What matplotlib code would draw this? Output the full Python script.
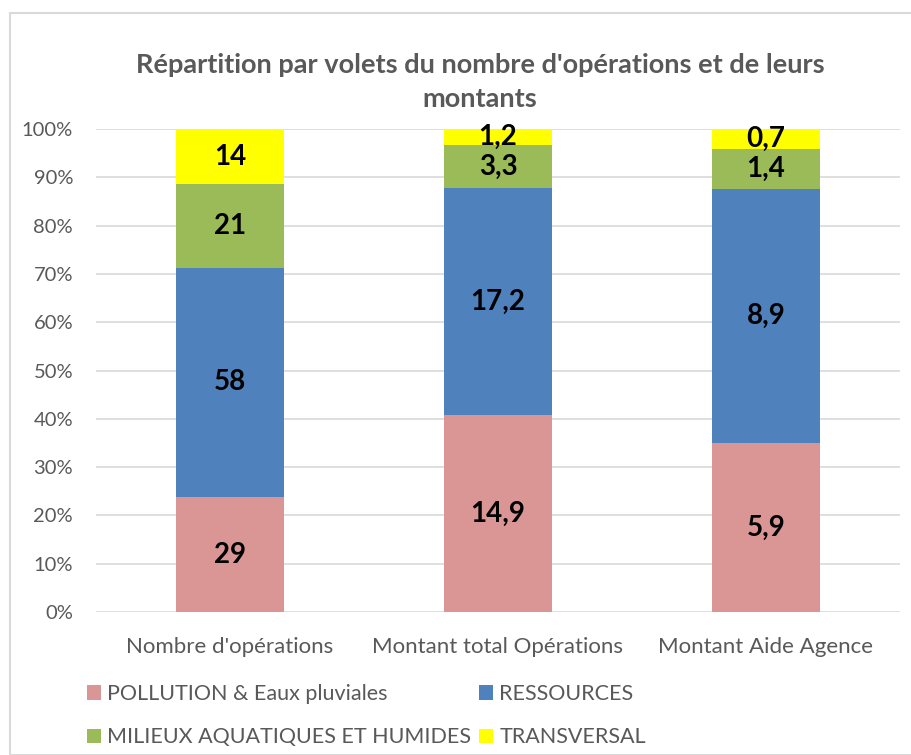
import matplotlib
matplotlib.use("Agg")
import matplotlib.pyplot as plt
import numpy as np
from matplotlib.patches import Rectangle

plt.rcParams['font.family'] = ['Lato', 'DejaVu Sans']

categories = ["Nombre d'opérations", "Montant total Opérations", "Montant Aide Agence"]
series_names = ["POLLUTION & Eaux pluviales", "RESSOURCES",
                "MILIEUX AQUATIQUES ET HUMIDES", "TRANSVERSAL"]
pollution = [29, 14.9, 5.9]
ressources = [58, 17.2, 8.9]
milieux = [21, 3.3, 1.4]
transversal = [14, 1.2, 0.7]
labels_pollution = ["29", "14,9", "5,9"]
labels_ressources = ["58", "17,2", "8,9"]
labels_milieux = ["21", "3,3", "1,4"]
labels_transversal = ["14", "1,2", "0,7"]
colors = ["#D99694", "#4F81BD", "#9BBB59", "#FFFF00"]
yticks = [0, 10, 20, 30, 40, 50, 60, 70, 80, 90, 100]

W, H = 911, 755
fig = plt.figure(figsize=(W / 100, H / 100), dpi=100)
fig.patches.append(Rectangle((10 / W, 0), 1, 1 - 13 / H, transform=fig.transFigure,
                             fill=False, edgecolor="#d9d9d9", linewidth=1.5, zorder=0))

ax = fig.add_axes([96 / W, 1 - 612 / H, (900 - 96) / W, (612 - 129) / H])

data = np.array([pollution, ressources, milieux, transversal], dtype=float)
labels = [labels_pollution, labels_ressources, labels_milieux, labels_transversal]
totals = data.sum(axis=0)
pct = data / totals * 100
x = np.arange(len(categories))
bottom = np.zeros(len(categories))
for i in range(4):
    ax.bar(x, pct[i], bottom=bottom, width=0.4, color=colors[i],
           label=series_names[i], zorder=2)
    for j in range(len(categories)):
        ax.text(x[j], bottom[j] + pct[i][j] / 2, labels[i][j], ha="center", va="center",
                fontsize=20, fontweight="bold", color="black", zorder=3)
    bottom += pct[i]

ax.set_xlim(-0.5, 2.5)
ax.set_ylim(0, 100)
ax.set_yticks(yticks)
ax.set_yticklabels([f"{t}%" for t in yticks])
ax.set_xticks(x)
ax.set_xticklabels(categories)
ax.tick_params(axis="y", length=0, labelsize=14.5, colors="#595959", pad=16.5)
ax.tick_params(axis="x", length=0, labelsize=16, colors="#595959", pad=18)
ax.grid(axis="y", color="#d9d9d9", linewidth=1.2, zorder=0)
for s in ax.spines.values():
    s.set_visible(False)

fig.text(480 / W, 1 - 65 / H, "Répartition par volets du nombre d'opérations et de leurs",
         ha="center", va="center", fontsize=19.5, fontweight="bold", color="#595959")
fig.text(480 / W, 1 - 99 / H, "montants",
         ha="center", va="center", fontsize=19.5, fontweight="bold", color="#595959")

handles, lbls = ax.get_legend_handles_labels()
order = [0, 2, 1, 3]
leg = fig.legend([handles[k] for k in order], [lbls[k] for k in order], ncol=2,
                 loc="upper left", bbox_to_anchor=(87 / W, 1 - 684 / H),
                 borderaxespad=0, borderpad=0,
                 frameon=False, fontsize=15.5, handlelength=0.65, handleheight=0.65,
                 handletextpad=0.3, columnspacing=0.35, labelspacing=1.08, labelcolor="#595959")

fig.savefig("out.png", dpi=100)
